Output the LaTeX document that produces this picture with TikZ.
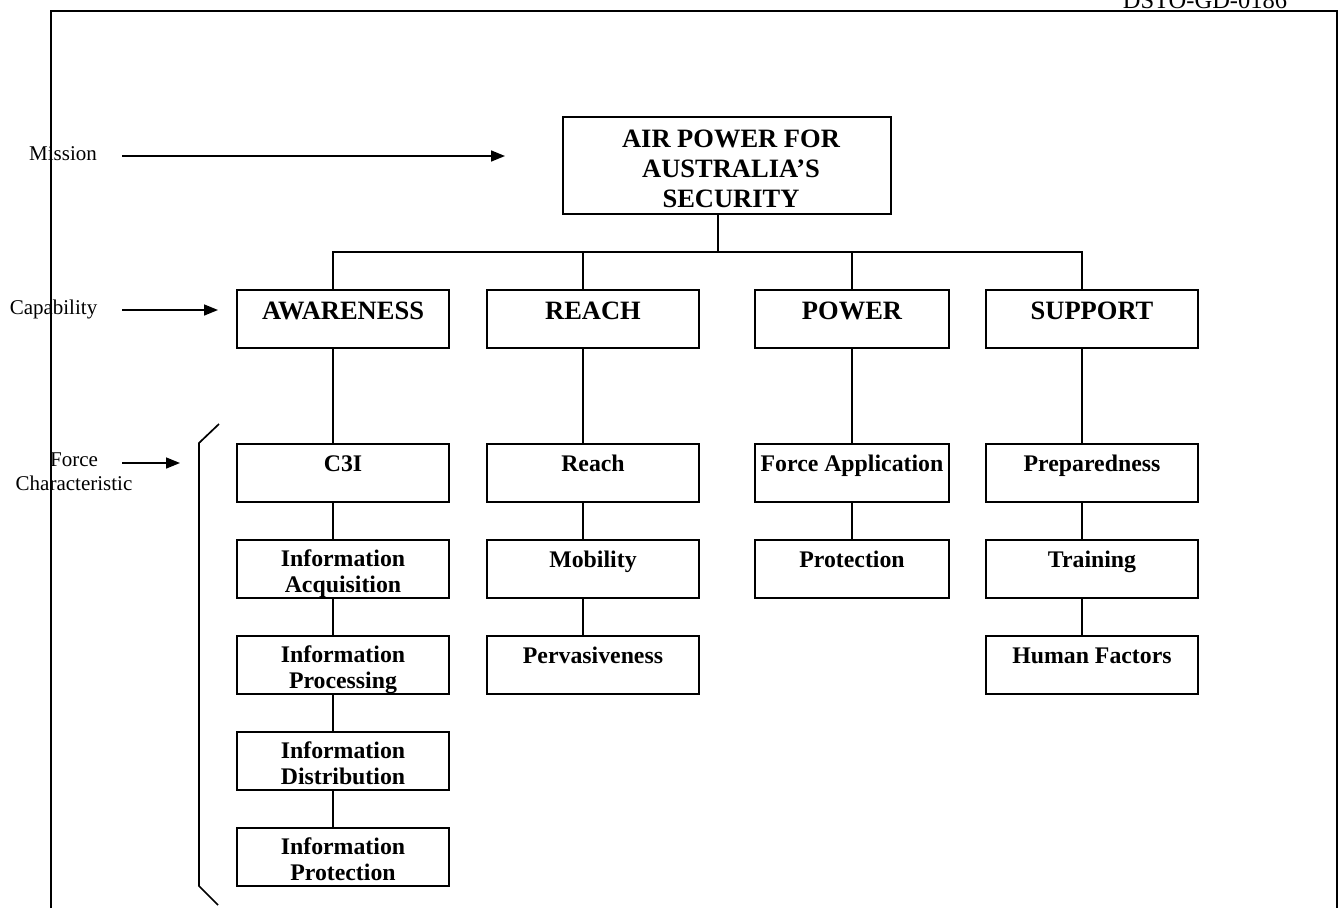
\documentclass[tikz,border=0pt]{standalone}
\usepackage{fontspec}
\setmainfont{Liberation Serif}
\usetikzlibrary{arrows.meta}
\newcommand{\bxt}[4]{\parbox[c][#2][t]{#1}{\centering\rule{0pt}{#3}#4\par}}
\newcommand{\hfont}{\bfseries\fontsize{26.5}{30}\selectfont}
\newcommand{\sfont}{\bfseries\fontsize{23.8}{26}\selectfont}
\newcommand{\lfont}{\fontsize{21}{24}\selectfont}
\begin{document}
\begin{tikzpicture}[x=1pt,y=-1pt,
  box/.style={draw, line width=2pt, inner sep=0pt, outer sep=0pt, anchor=north west, fill=white},
  link/.style={line width=1.3pt},
  arr/.style={line width=1.6pt, -{Triangle[length=14pt,width=11pt]}},
  lbl/.style={font=\lfont, inner sep=0pt, align=center}]
\useasboundingbox (0,0) rectangle (1338,908);
% frame
\draw[line width=2.5pt] (51,908) -- (51,11) -- (1337,11) -- (1337,908);
\node[font=\fontsize{24.5}{28}\selectfont, anchor=base, inner sep=0pt] (hdr) at (1205,8) {DSTO-GD-0186};
% side labels
\node[lbl, anchor=base] (mis) at (63,160) {Mission};
\node[lbl, anchor=base] (cap) at (53.5,314) {Capability};
\node[lbl, anchor=center] (fch) at (74,472) {Force\\Characteristic};
\coordinate (mA) at (122,156); \coordinate (mB) at (505,156);
\coordinate (cA) at (122,310); \coordinate (cB) at (218,310);
\coordinate (fA) at (122,463); \coordinate (fB) at (180,463);
\draw[arr] (mA) -- (mB);
\draw[arr] (cA) -- (cB);
\draw[arr] (fA) -- (fB);
% bracket
\draw[line width=1.7pt] (219,424) -- (199,443) -- (199,886) -- (218,905);
% top
\node[box] (top) at (563,117) {\bxt{328pt}{97pt}{30pt}{\hspace*{8pt}\hfont AIR POWER FOR\\\hspace*{8pt}AUSTRALIA’S\\\hspace*{8pt}SECURITY}};
% capabilities
\node[box] (aw) at (237,290) {\bxt{212pt}{58pt}{29pt}{\hfont AWARENESS}};
\node[box] (re) at (487,290) {\bxt{212pt}{58pt}{29pt}{\hfont REACH}};
\node[box] (po) at (755,290) {\bxt{194pt}{58pt}{29pt}{\hfont POWER}};
\node[box] (su) at (986,290) {\bxt{212pt}{58pt}{29pt}{\hfont SUPPORT}};
% awareness column
\node[box] (c3i) at (237,444) {\bxt{212pt}{58pt}{27pt}{\sfont C3I}};
\node[box] (iacq) at (237,540) {\bxt{212pt}{58pt}{26pt}{\sfont Information\\Acquisition}};
\node[box] (iproc) at (237,636) {\bxt{212pt}{58pt}{26pt}{\sfont Information\\Processing}};
\node[box] (idist) at (237,732) {\bxt{212pt}{58pt}{26pt}{\sfont Information\\Distribution}};
\node[box] (iprot) at (237,828) {\bxt{212pt}{58pt}{26pt}{\sfont Information\\Protection}};
% reach column
\node[box] (rch) at (487,444) {\bxt{212pt}{58pt}{27pt}{\sfont Reach}};
\node[box] (mob) at (487,540) {\bxt{212pt}{58pt}{27pt}{\sfont Mobility}};
\node[box] (perv) at (487,636) {\bxt{212pt}{58pt}{27pt}{\sfont Pervasiveness}};
% power column
\node[box] (fapp) at (755,444) {\bxt{194pt}{58pt}{27pt}{\sfont Force Application}};
\node[box] (prot) at (755,540) {\bxt{194pt}{58pt}{27pt}{\sfont Protection}};
% support column
\node[box] (prep) at (986,444) {\bxt{212pt}{58pt}{27pt}{\sfont Preparedness}};
\node[box] (trn) at (986,540) {\bxt{212pt}{58pt}{27pt}{\sfont Training}};
\node[box] (hf) at (986,636) {\bxt{212pt}{58pt}{27pt}{\sfont Human Factors}};
% stems
\coordinate (sAW) at (333,0);
\coordinate (sRE) at (583,0);
\coordinate (sPO) at (852,0);
\coordinate (sSU) at (1082,0);
\coordinate (bus) at (718,252);
\draw[link] (top.south -| bus) -- (bus);
\draw[link] (aw.north -| sAW) |- (bus) -| (su.north -| sSU);
\draw[link] (re.north -| sRE) -- (sRE |- bus);
\draw[link] (po.north -| sPO) -- (sPO |- bus);
% chains
\draw[link] (aw.south -| sAW) -- (c3i.north -| sAW);
\draw[link] (c3i.south -| sAW) -- (iacq.north -| sAW);
\draw[link] (iacq.south -| sAW) -- (iproc.north -| sAW);
\draw[link] (iproc.south -| sAW) -- (idist.north -| sAW);
\draw[link] (idist.south -| sAW) -- (iprot.north -| sAW);
\draw[link] (re.south -| sRE) -- (rch.north -| sRE);
\draw[link] (rch.south -| sRE) -- (mob.north -| sRE);
\draw[link] (mob.south -| sRE) -- (perv.north -| sRE);
\draw[link] (po.south -| sPO) -- (fapp.north -| sPO);
\draw[link] (fapp.south -| sPO) -- (prot.north -| sPO);
\draw[link] (su.south -| sSU) -- (prep.north -| sSU);
\draw[link] (prep.south -| sSU) -- (trn.north -| sSU);
\draw[link] (trn.south -| sSU) -- (hf.north -| sSU);
\end{tikzpicture}
\end{document}
